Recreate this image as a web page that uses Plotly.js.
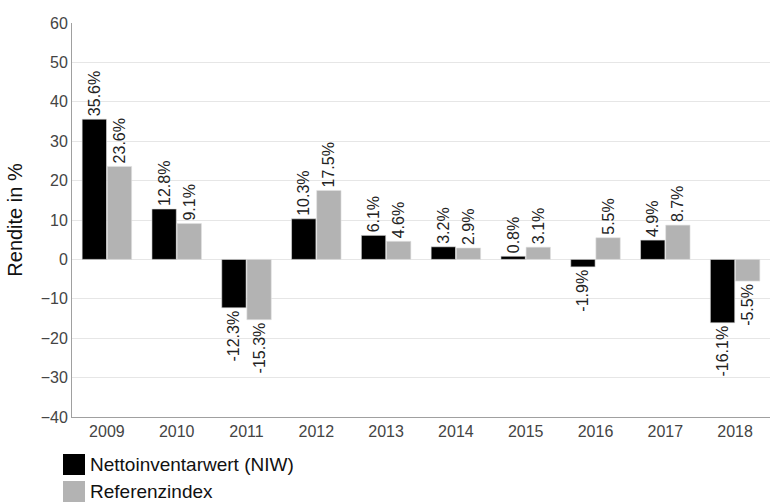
<!DOCTYPE html>
<html><head><meta charset="utf-8">
<script src="https://cdn.plot.ly/plotly-3.0.1.min.js"></script>
<style>html,body{margin:0;padding:0;background:#fff}#c{width:772px;height:502px}</style>
</head><body><div id="c"></div>
<script>
const years = ['2009','2010','2011','2012','2013','2014','2015','2016','2017','2018'];
const niw = [35.6, 12.8, -12.3, 10.3, 6.1, 3.2, 0.8, -1.9, 4.9, -16.1];
const ref = [23.6, 9.1, -15.3, 17.5, 4.6, 2.9, 3.1, 5.5, 8.7, -5.5];
const seriesNames = ['Nettoinventarwert (NIW)', 'Referenzindex'];
const seriesColors = ['#000000', '#b3b3b3'];
const yTicks = [-40,-30,-20,-10,0,10,20,30,40,50,60];

const font = 'Liberation Sans, Arial, sans-serif';
const T = 23, H = 394, L = 72, W = 698;
const py = p => 1 - (p - T) / H;
const px = p => (p - L) / W;
function tr(vals, i){
  return {
    type:'bar', x:years, y:vals, name:seriesNames[i],
    marker:{color:seriesColors[i], line:{color:'#e0e0e0', width:0.6}},
    text: vals.map(v => v.toFixed(1) + '%'),
    textposition:'outside', textangle:-90, cliponaxis:false,
    constraintext:'none',
    textfont:{family:font, size:16, color:'#222'},
    hoverinfo:'none', showlegend:false
  };
}
const shapes = [], annotations = [];
seriesNames.forEach((n,i)=>{
  const top = 454 + i*27;
  shapes.push({type:'rect', xref:'paper', yref:'paper',
    x0:px(63), x1:px(85), y0:py(top+21), y1:py(top),
    fillcolor:seriesColors[i], line:{width:0}});
  annotations.push({xref:'paper', yref:'paper', x:px(88), y:py(top+10),
    xanchor:'left', yanchor:'middle', showarrow:false, text:n,
    font:{family:font, size:19, color:'#111'}});
});
Plotly.newPlot('c', [tr(niw,0), tr(ref,1)], {
  width:772, height:502,
  margin:{l:72, r:2, t:23, b:85},
  paper_bgcolor:'#fff', plot_bgcolor:'#fff',
  bargap:0.28, bargroupgap:0.03,
  font:{family:font},
  xaxis:{type:'category', tickmode:'array', tickvals:years, ticktext:years,
    showline:true, linecolor:'#a0a0a0', linewidth:1, ticks:'',
    tickfont:{family:font, size:16, color:'#444'}, showgrid:false},
  yaxis:{range:[-40,60], tickmode:'array', tickvals:yTicks, showline:true, linecolor:'#a0a0a0',
    gridcolor:'#e6e6e6', zeroline:false, ticks:'',
    tickfont:{family:font, size:16, color:'#444'},
    title:{text:'Rendite in %', font:{family:font, size:20, color:'#111'}, standoff:12}},
  shapes:shapes, annotations:annotations
}, {staticPlot:true});
</script></body></html>
